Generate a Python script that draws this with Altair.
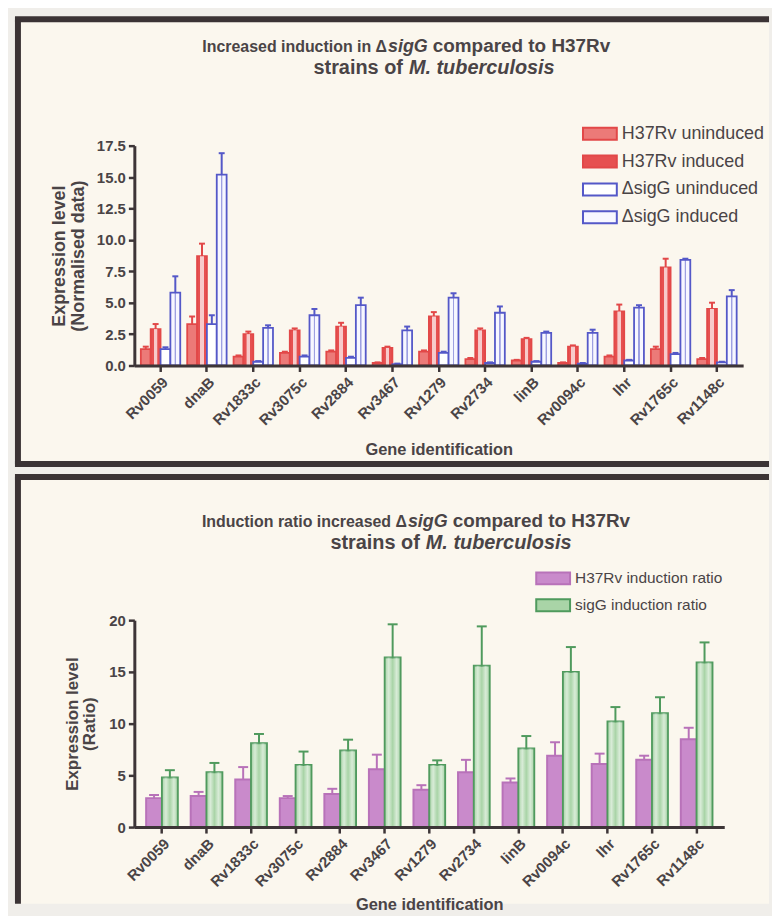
import altair as alt
import pandas as pd

# ---------------- data ----------------
genes = ["Rv0059", "dnaB", "Rv1833c", "Rv3075c", "Rv2884", "Rv3467", "Rv1279",
         "Rv2734", "linB", "Rv0094c", "lhr", "Rv1765c", "Rv1148c"]

top_series = ["H37Rv uninduced", "H37Rv induced", "ΔsigG uninduced", "ΔsigG induced"]
h37_unind = [1.3, 3.3, 0.7, 1.0, 1.1, 0.2, 1.1, 0.5, 0.4, 0.2, 0.7, 1.3, 0.5]
h37_unind_err = [0.2, 0.6, 0.1, 0.1, 0.1, 0.05, 0.1, 0.1, 0.05, 0.05, 0.1, 0.2, 0.1]
h37_ind = [2.9, 8.7, 2.5, 2.8, 3.1, 1.4, 3.9, 2.8, 2.1, 1.5, 4.3, 7.8, 4.5]
h37_ind_err = [0.4, 1.0, 0.2, 0.15, 0.3, 0.1, 0.35, 0.15, 0.1, 0.1, 0.55, 0.7, 0.5]
sig_unind = [1.3, 3.3, 0.3, 0.7, 0.6, 0.1, 1.0, 0.2, 0.3, 0.15, 0.4, 0.9, 0.25]
sig_unind_err = [0.15, 0.7, 0.05, 0.1, 0.1, 0.05, 0.1, 0.05, 0.05, 0.05, 0.05, 0.1, 0.05]
sig_ind = [5.8, 15.2, 3.0, 4.0, 4.8, 2.8, 5.4, 4.2, 2.6, 2.6, 4.6, 8.4, 5.5]
sig_ind_err = [1.3, 1.7, 0.2, 0.5, 0.6, 0.3, 0.35, 0.5, 0.1, 0.25, 0.2, 0.1, 0.5]

bot_series = ["H37Rv induction ratio", "sigG induction ratio"]
h37_ratio = [2.8, 3.0, 4.6, 2.8, 3.2, 5.6, 3.6, 5.3, 4.3, 6.9, 6.1, 6.5, 8.5]
h37_ratio_err = [0.3, 0.4, 1.2, 0.2, 0.5, 1.4, 0.45, 1.2, 0.4, 1.3, 1.0, 0.4, 1.1]
sig_ratio = [4.8, 5.3, 8.1, 6.0, 7.4, 16.4, 6.0, 15.6, 7.6, 15.0, 10.2, 11.0, 15.9]
sig_ratio_err = [0.7, 0.9, 0.9, 1.3, 1.05, 3.2, 0.45, 3.8, 1.2, 2.4, 1.4, 1.55, 1.95]

top_ticks = [0, 2.5, 5, 7.5, 10, 12.5, 15, 17.5]
bot_ticks = [0, 5, 10, 15, 20]


def long_table(names, vals, errs):
    rows = []
    for s, v, e in zip(names, vals, errs):
        for g, vv, ee in zip(genes, v, e):
            rows.append({"gene": g, "series": s, "value": vv, "upper": vv + ee})
    return pd.DataFrame(rows)


top_df = long_table(top_series, [h37_unind, h37_ind, sig_unind, sig_ind],
                    [h37_unind_err, h37_ind_err, sig_unind_err, sig_ind_err])
bot_df = long_table(bot_series, [h37_ratio, sig_ratio], [h37_ratio_err, sig_ratio_err])
one = pd.DataFrame({"k": [0]})

# ---------------- style ----------------
FONT = "Liberation Sans, Arial, sans-serif"
TXT = "#4a4446"
AX = "#3d3537"
FRAME = "#3b3335"
PAPER = "#fbf7ee"
BG = "#f0eeea"


def T(a):
    return "rgba(255,255,255,%s)" % a


def frame_layers(x0, x1, y0, y1, bottom=True):
    ls = [
        alt.Chart(one).mark_rect(fill=PAPER).encode(
            x=alt.value(x0), x2=alt.value(x1), y=alt.value(y0), y2=alt.value(y1)),
        alt.Chart(one).mark_rule(stroke=FRAME, strokeWidth=6).encode(
            x=alt.value(x0 - 3), x2=alt.value(x1), y=alt.value(y0)),
        alt.Chart(one).mark_rule(stroke=FRAME, strokeWidth=6).encode(
            x=alt.value(x0), y=alt.value(y0), y2=alt.value(y1)),
    ]
    if bottom:
        ls.append(alt.Chart(one).mark_rule(stroke=FRAME, strokeWidth=6).encode(
            x=alt.value(x0 - 3), x2=alt.value(x1), y=alt.value(y1)))
    return ls


def txt(s, x, y, align, size, italic=False):
    return alt.Chart(one).mark_text(
        text=s, align=align, baseline="alphabetic", font=FONT, fontSize=size,
        fontWeight="bold", fontStyle="italic" if italic else "normal", color=TXT
    ).encode(x=alt.value(x), y=alt.value(y))


def legend(x, y, size, rowpad):
    # wide 34x12 swatch drawn with a small nominal symbol size (20px)
    return alt.Legend(title=None, orient="none", legendX=x + 7, legendY=y,
                      symbolType="M-1.7,-0.6H1.7V0.6H-1.7Z", symbolSize=400,
                      symbolStrokeWidth=2, labelFont=FONT, labelFontSize=size,
                      labelColor=TXT, labelOffset=11, rowPadding=rowpad)


def yaxis(title, ticks, fmt, tx, ty, tsize, tlh):
    return alt.Axis(title=title, values=ticks, format=fmt, titleX=tx, titleY=ty,
                    titleAlign="center", titleBaseline="top", titleAngle=270,
                    titleFontSize=tsize, titleLineHeight=tlh, zindex=1)


# ---------------- panel 1 ----------------
W1, H1 = 612, 221
top_fill = ["#ec7a78", "#e65050", "#ffffff", "#f7f7ff"]
top_stroke = ["#e24848", "#e24848", "#5458c8", "#5458c8"]

x1 = alt.X("gene:N", sort=genes,
           scale=alt.Scale(paddingInner=0.15, paddingOuter=0.14),
           axis=alt.Axis(title="Gene identification", labelAngle=315, titleY=84,
                         titleBaseline="middle", zindex=1))
xo1 = alt.XOffset("series:N", sort=top_series,
                  scale=alt.Scale(domain=top_series, paddingInner=0.0, paddingOuter=0.0))
ysc1 = alt.Scale(domain=[0, 17.5], nice=False)
yax1 = yaxis(["Expression level", "(Normalised data)"], top_ticks, ".1f", -84, H1 / 2, 18, 19)
y1 = alt.Y("value:Q", scale=ysc1, axis=yax1)
y1u = alt.Y("upper:Q", scale=ysc1, axis=yax1)
fill1 = alt.Fill("series:N", scale=alt.Scale(domain=top_series, range=top_fill),
                 legend=legend(450, -23, 18, 7))
stroke1 = alt.Stroke("series:N", scale=alt.Scale(domain=top_series, range=top_stroke),
                     legend=legend(450, -23, 18, 7))

base1 = alt.Chart(top_df)
bars1 = base1.mark_bar(strokeWidth=1.8).encode(x=x1, xOffset=xo1, y=y1, fill=fill1, stroke=stroke1)

dots = alt.Gradient(gradient="linear", x1=0, x2=1, y1=0, y2=0, stops=[
    alt.GradientStop(color=T(0), offset=0), alt.GradientStop(color=T(0), offset=0.3),
    alt.GradientStop(color=T(0.7), offset=0.33), alt.GradientStop(color=T(0.7), offset=0.67),
    alt.GradientStop(color=T(0), offset=0.7), alt.GradientStop(color=T(0), offset=1)])
vstripes = alt.Gradient(gradient="linear", x1=0, x2=1, y1=0, y2=0, stops=[
    alt.GradientStop(color="rgba(84,88,200,0)", offset=0),
    alt.GradientStop(color="rgba(84,88,200,0)", offset=0.4),
    alt.GradientStop(color="rgba(84,88,200,0.55)", offset=0.45),
    alt.GradientStop(color="rgba(84,88,200,0.55)", offset=0.55),
    alt.GradientStop(color="rgba(84,88,200,0)", offset=0.6),
    alt.GradientStop(color="rgba(84,88,200,0)", offset=1)])

ov_ind = base1.transform_filter(alt.datum.series == "H37Rv induced").mark_bar(
    fill=dots, strokeWidth=0).encode(x=x1, xOffset=xo1, y=y1)
ov_sig = base1.transform_filter(alt.datum.series == "ΔsigG induced").mark_bar(
    fill=vstripes, strokeWidth=0).encode(x=x1, xOffset=xo1, y=y1)

err1 = base1.mark_rule(strokeWidth=2).encode(x=x1, xOffset=xo1, y=y1, y2="upper:Q", stroke=stroke1)
cap1 = base1.mark_point(shape="M-1,0H1", filled=False, size=36, strokeWidth=2, opacity=1).encode(
    x=x1, xOffset=xo1, y=y1u, stroke=stroke1)

title1 = [
    txt("Increased induction in Δ", 254, -94, "right", 16),
    txt("sigG", 255, -94, "left", 18, True),
    txt("compared to H37Rv", 300, -94, "left", 19),
    txt("strains of", 270, -72, "right", 20),
    txt("M. tuberculosis", 276, -72, "left", 20, True),
]

panel1 = alt.layer(*frame_layers(-117, 638, -127, 320), *title1,
                   err1, cap1, bars1, ov_ind, ov_sig).properties(width=W1, height=H1)

# ---------------- panel 2 ----------------
W2, H2 = 593, 208
bot_fill = ["#c98acb", "#a9d4a7"]
bot_stroke = ["#b872b9", "#4f9a5d"]

x2 = alt.X("gene:N", sort=genes,
           scale=alt.Scale(paddingInner=0.29, paddingOuter=0.265),
           axis=alt.Axis(title="Gene identification", labelAngle=315, titleY=78,
                         titleBaseline="middle", zindex=1))
xo2 = alt.XOffset("series:N", sort=bot_series,
                  scale=alt.Scale(domain=bot_series, paddingInner=0.0, paddingOuter=0.0))
ysc2 = alt.Scale(domain=[0, 20], nice=False)
yax2 = yaxis(["Expression level", "(Ratio)"], bot_ticks, "d", -70.5, H2 / 2, 17, 17)
y2 = alt.Y("value:Q", scale=ysc2, axis=yax2)
y2u = alt.Y("upper:Q", scale=ysc2, axis=yax2)
fill2 = alt.Fill("series:N", scale=alt.Scale(domain=bot_series, range=bot_fill),
                 legend=legend(403, -53, 15.5, 6))
stroke2 = alt.Stroke("series:N", scale=alt.Scale(domain=bot_series, range=bot_stroke),
                     legend=legend(403, -53, 15.5, 6))

base2 = alt.Chart(bot_df)
bars2 = base2.mark_bar(strokeWidth=2).encode(x=x2, xOffset=xo2, y=y2, fill=fill2, stroke=stroke2)
checks = alt.Gradient(gradient="linear", x1=0, x2=1, y1=0, y2=0, stops=[
    alt.GradientStop(color=T(0), offset=0), alt.GradientStop(color=T(0.55), offset=0.25),
    alt.GradientStop(color=T(0), offset=0.5), alt.GradientStop(color=T(0.55), offset=0.75),
    alt.GradientStop(color=T(0), offset=1)])
ov2 = base2.transform_filter(alt.datum.series == "sigG induction ratio").mark_bar(
    fill=checks, strokeWidth=0).encode(x=x2, xOffset=xo2, y=y2)
err2 = base2.mark_rule(strokeWidth=2).encode(x=x2, xOffset=xo2, y=y2, y2="upper:Q", stroke=stroke2)
cap2 = base2.mark_point(shape="M-1,0H1", filled=False, size=100, strokeWidth=2, opacity=1).encode(
    x=x2, xOffset=xo2, y=y2u, stroke=stroke2)

title2 = [
    txt("Induction ratio increased Δ", 274, -94, "right", 16),
    txt("sigG", 275, -94, "left", 18, True),
    txt("compared to H37Rv", 320, -94, "left", 19),
    txt("strains of", 287, -72, "right", 20),
    txt("M. tuberculosis", 293, -72, "left", 20, True),
]

panel2 = alt.layer(*frame_layers(-117, 638, -144, 285, bottom=False), *title2,
                   err2, cap2, bars2, ov2).properties(width=W2, height=H2)

chart = alt.concat(panel1, panel2, columns=1, spacing=7, align="none").resolve_scale(
    x="independent", y="independent", xOffset="independent",
    fill="independent", stroke="independent"
).properties(
    padding={"left": 4, "top": 6, "right": 0, "bottom": 0},
    background=BG,
).configure_view(stroke=None).configure_axis(
    labelFont=FONT, labelFontSize=15, labelFontWeight="bold", labelColor=TXT,
    titleFont=FONT, titleFontWeight="bold", titleColor=TXT, titleFontSize=16.5,
    domainColor=AX, domainWidth=3, tickColor=AX, tickWidth=2.5, tickSize=6,
    grid=False, labelPadding=3,
)

chart.save("out.html", embed_options={"renderer": "svg", "actions": False})
